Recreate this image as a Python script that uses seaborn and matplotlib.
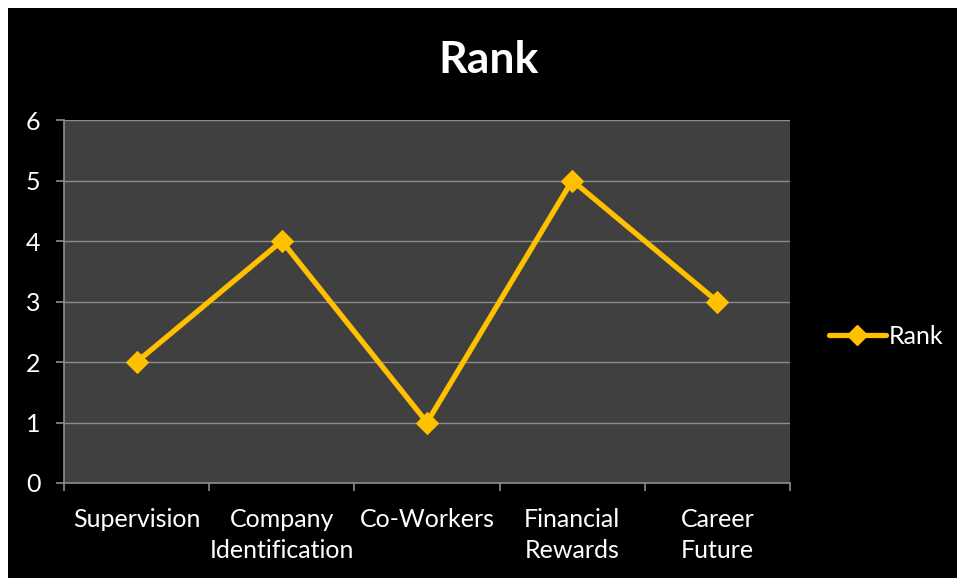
import matplotlib
matplotlib.use("Agg")
import matplotlib.pyplot as plt
from matplotlib.lines import Line2D
from matplotlib.patches import Rectangle
import seaborn as sns
import pandas as pd

categories = ["Supervision", "Company\nIdentification", "Co-Workers",
              "Financial\nRewards", "Career\nFuture"]
rank = [2, 4, 1, 5, 3]
y_ticks = [0, 1, 2, 3, 4, 5, 6]

GOLD = "#FFC000"
PLOT_BG = "#404040"
GRID = "#8C8C8C"

sns.set_theme(style="dark")
plt.rcParams["font.family"] = ["Lato", "DejaVu Sans"]

W, H = 957, 578
fig = plt.figure(figsize=(W / 100, H / 100), dpi=100)
fig.patch.set_facecolor("white")
# black chart area with thin white margin on top and left
fig.patches.append(Rectangle((8 / W, 0), 1 - 8 / W, 1 - 8 / H, transform=fig.transFigure,
                             facecolor="black", edgecolor="none", zorder=-10))

ax = fig.add_axes([64 / W, (H - 483) / H, 726 / W, 363 / H])
ax.set_facecolor(PLOT_BG)

df = pd.DataFrame({"category": categories, "Rank": rank})
sns.lineplot(data=df, x="category", y="Rank", ax=ax, color=GOLD, linewidth=3.8,
             marker="D", markersize=11, markeredgecolor=GOLD, sort=False,
             label="Rank", legend=False, zorder=5)

ax.set_xlim(-0.5, len(categories) - 0.5)
ax.set_ylim(0, 6)
ax.set_yticks(y_ticks)
ax.set_xticks(range(len(categories)))
ax.set_xticklabels(categories)
ax.set_xticks([i - 0.5 for i in range(len(categories) + 1)], minor=True)

ax.grid(False)
for v in y_ticks[1:]:
    ax.axhline(v, color=GRID, linewidth=1.0, zorder=1)

for side in ("top", "right"):
    ax.spines[side].set_visible(False)
for side in ("left", "bottom"):
    ax.spines[side].set_visible(True)
    ax.spines[side].set_color(GRID)
    ax.spines[side].set_linewidth(1.2)

ax.tick_params(axis="y", which="major", direction="out", length=6, width=1.2,
               color=GRID, left=True, labelcolor="white", labelsize=18, pad=11)
ax.tick_params(axis="x", which="major", length=0, labelcolor="white",
               labelsize=18, pad=18)
ax.tick_params(axis="x", which="minor", direction="out", length=6, width=1.2,
               color=GRID, bottom=True)
for lbl in ax.get_xticklabels():
    lbl.set_linespacing(1.4)
    lbl.set_horizontalalignment("center")

ax.set_xlabel("")
ax.set_ylabel("")

fig.text(489 / W, 1 - 60 / H, "Rank", color="white", fontsize=32,
         fontweight="bold", ha="center", va="center")

handle = Line2D([], [], color=GOLD, linewidth=3.8, marker="D", markersize=10,
                markeredgecolor=GOLD)
leg = fig.legend([handle], ["Rank"], loc="center left",
                 bbox_to_anchor=(806 / W, 1 - 336 / H), frameon=False,
                 fontsize=18, handlelength=2.3, handletextpad=0.1,
                 labelcolor="white")

fig.savefig("out.png", dpi=100, facecolor=fig.get_facecolor())
